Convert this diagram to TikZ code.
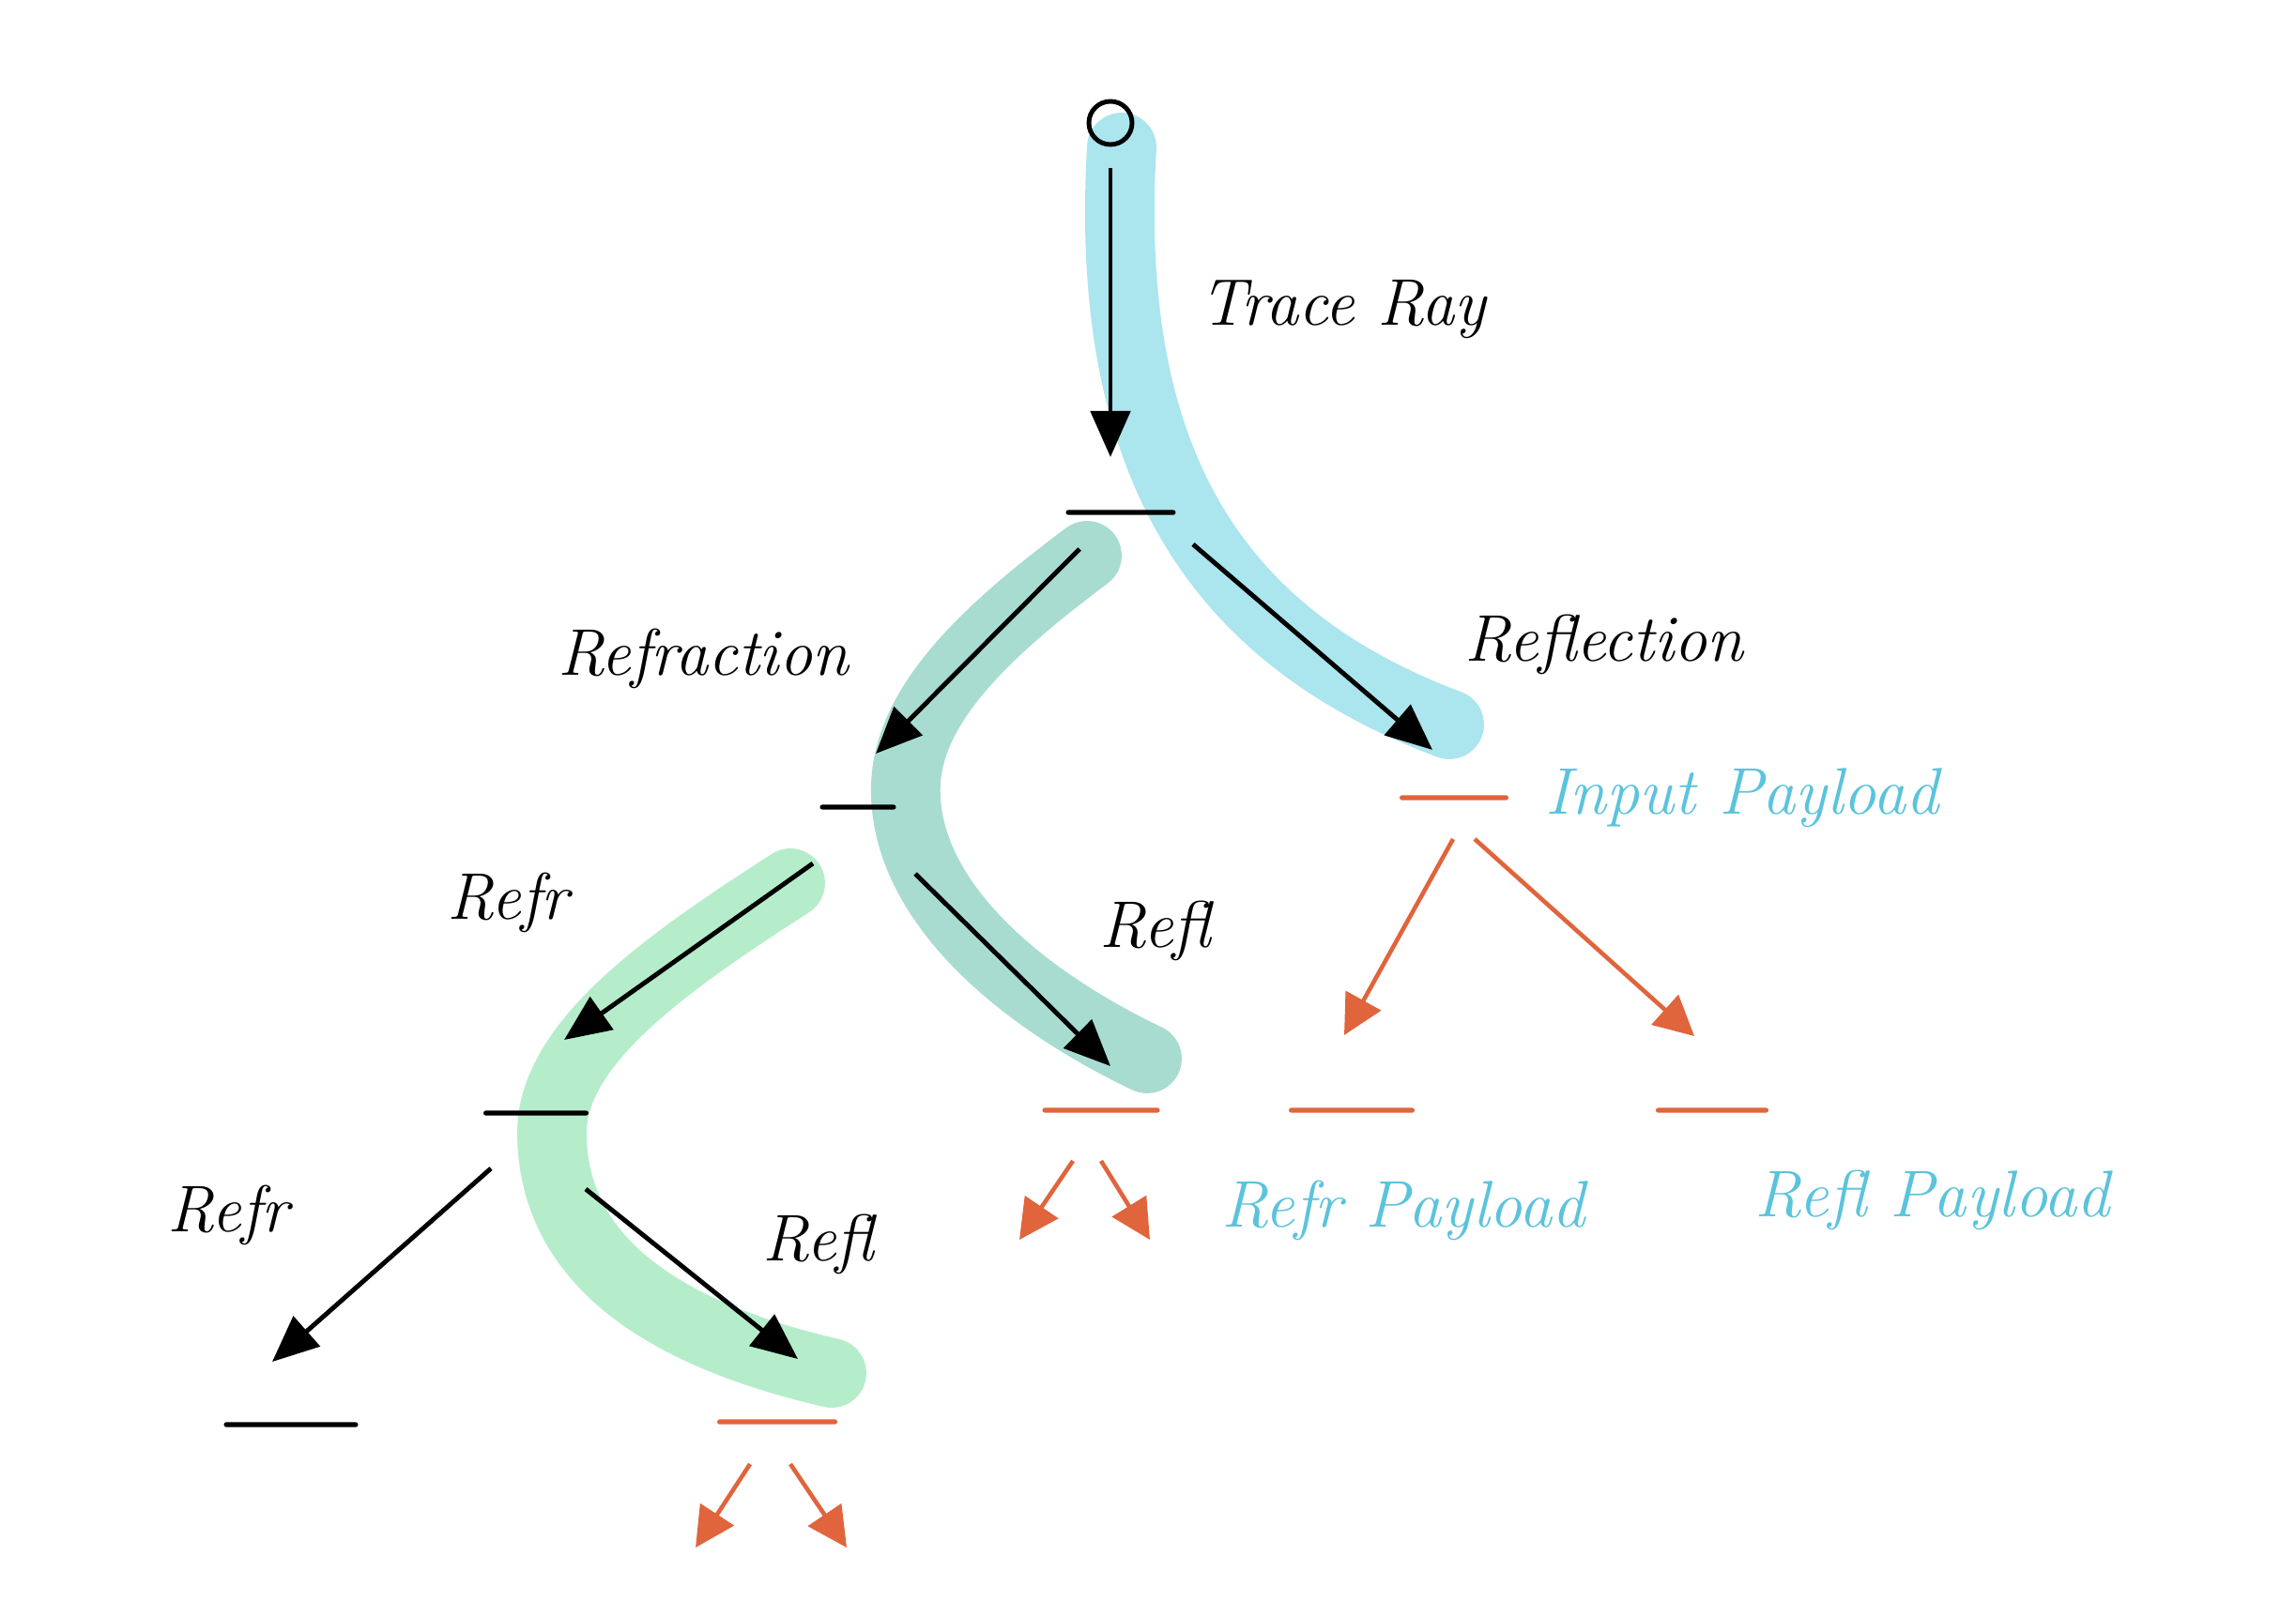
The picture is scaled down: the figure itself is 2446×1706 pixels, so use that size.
\documentclass[tikz,border=0pt]{standalone}
\usepackage{tikz}
\usetikzlibrary{arrows.meta,calc}
\definecolor{tracecyan}{HTML}{ABE5EE}
\definecolor{refrteal}{HTML}{A8DCD1}
\definecolor{refrgreen}{HTML}{B5EDCB}
\definecolor{payorange}{HTML}{E0643C}
\definecolor{paycyan}{HTML}{5BC3DC}

\begin{document}
\begin{tikzpicture}[x=0.01cm,y=-0.01cm,
  ray/.style={line width=1.4pt,-{Triangle[length=14pt,width=12pt]}},
  payray/.style={line width=1.3pt,payorange,-{Triangle[length=12pt,width=12pt]}},
  hit/.style={fill=black,inner sep=0pt,minimum height=1.5pt,minimum width=#1,rounded corners=0.75pt},
  paybar/.style={hit=#1,fill=payorange},
  glow/.style={line width=21pt,line cap=round,line join=round},
  note/.style={font=\fontsize{20}{24}\selectfont\itshape},
  paynote/.style={note,text=paycyan}]
  \useasboundingbox (0,0) rectangle (2446,1706);

  % highlighted paths
  \draw[glow,tracecyan] (1195,157) .. controls (1175,500) and (1300,680) .. (1544,772);
  \draw[glow,refrteal] (1158,592) .. controls (1040,680) and (960,760) .. (965,850)
    .. controls (970,960) and (1080,1060) .. (1222,1128);
  \draw[glow,refrgreen] (842,941) .. controls (720,1020) and (585,1110) .. (588,1210)
    .. controls (590,1340) and (700,1420) .. (886,1463);

  % start and hits
  \node[draw,circle,line width=1.4pt,minimum size=0.46cm,inner sep=0pt] (s) at (1183,131) {};
  \node[hit=1.17cm] (b1) at (1194,546) {};
  \node[hit=0.81cm] (b2) at (914,860) {};
  \node[hit=1.12cm] (b3) at (571,1186) {};
  \node[hit=1.43cm] (b4) at (310,1518) {};
  \node[paybar=1.16cm] (o1) at (1549,850) {};
  \node[paybar=1.25cm] (o2) at (1173,1183) {};
  \node[paybar=1.34cm] (o3) at (1440,1183) {};
  \node[paybar=1.20cm] (o4) at (1824,1183) {};
  \node[paybar=1.28cm] (o5) at (828,1515) {};

  \coordinate (o2l) at ($(o2)+(-87,138)$);
  \coordinate (o2r) at ($(o2)+(52,138)$);
  \coordinate (o5l) at ($(o5)+(-87,134)$);
  \coordinate (o5r) at ($(o5)+(74,134)$);

  % rays
  \draw[ray] ($(s)+(0,48)$) -- ($(b1)+(-11,-59)$);
  \draw[ray] ($(b1)+(-44,39)$) -- ($(b2)+(19,-57)$);
  \draw[ray] ($(b1)+(77,34)$) -- ($(o1)+(-23,-51)$);
  \draw[ray] ($(b2)+(-48,60)$) -- ($(b3)+(30,-78)$);
  \draw[ray] ($(b2)+(61,71)$) -- ($(o2)+(10,-47)$);
  \draw[ray] ($(b3)+(-48,59)$) -- ($(b4)+(-20,-67)$);
  \draw[ray] ($(b3)+(53,81)$) -- ($(o5)+(22,-67)$);
  \draw[payray] ($(o1)+(-1,44)$) -- ($(o3)+(-8,-80)$);
  \draw[payray] ($(o1)+(22,44)$) -- ($(o4)+(-19,-79)$);
  \draw[payray] ($(o2)+(-30,54)$) -- (o2l);
  \draw[payray] ($(o2)+(0,54)$) -- (o2r);
  \draw[payray] ($(o5)+(-29,45)$) -- (o5l);
  \draw[payray] ($(o5)+(14,45)$) -- (o5r);

  % labels
  \node[note] (ltrace) at (1431,330) {Trace Ray};
  \node[note] (lrefr) at (749,702) {Refraction};
  \node[note] (lrefl) at (1709,687) {Reflection};
  \node[note] (lrefr2) at (541,962) {Refr};
  \node[note] (lrefl2) at (1231,992) {Refl};
  \node[note] (lrefr3) at (243,1295) {Refr};
  \node[note] (lrefl3) at (872,1326) {Refl};
  \node[paynote] (linput) at (1856,850) {Input Payload};
  \node[paynote] (lrefrpay) at (1495,1290) {Refr Payload};
  \node[paynote] (lreflpay) at (2059,1279) {Refl Payload};
\end{tikzpicture}
\end{document}
